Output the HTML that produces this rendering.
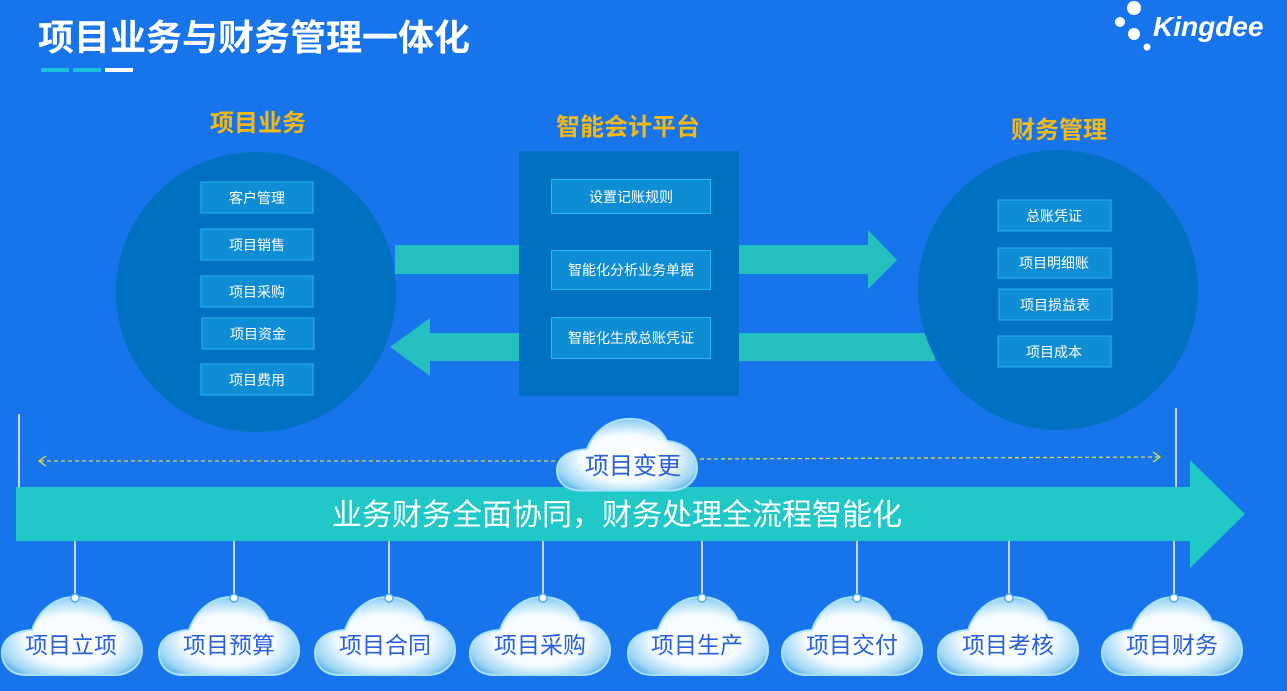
<!DOCTYPE html>
<html><head><meta charset="utf-8">
<style>
html,body{margin:0;padding:0;}
body{width:1287px;height:686px;overflow:hidden;background:#1874ea;font-family:"Liberation Sans","Noto Sans CJK SC",sans-serif;}
svg text{font-family:"Liberation Sans","Noto Sans CJK SC",sans-serif;}
</style></head><body>
<svg width="1287" height="686" viewBox="0 0 1287 686" xmlns="http://www.w3.org/2000/svg">
<defs>
<radialGradient id="cg" cx="50%" cy="55%" r="60%">
<stop offset="0" stop-color="#ffffff"/><stop offset="0.55" stop-color="#f4fbff"/><stop offset="0.85" stop-color="#9ed6f4"/><stop offset="1" stop-color="#4aa8e6"/>
</radialGradient>
<path id="cloud" d="M25,80 C7,80 0,69 0,58 C0,44 12,36 30,35 C37,15 53,2 73,2 C92,2 104,13 110,26 C128,28 140,40 140,55 C140,70 128,80 112,80 Z" fill="url(#cg)" stroke="#a9e2ff" stroke-width="2"/>
</defs>
<!-- title -->
<text x="38" y="50" font-size="36" font-weight="bold" fill="#fff">项目业务与财务管理一体化</text>
<rect x="41" y="68" width="28" height="4" fill="#1ec0e0"/>
<rect x="73" y="68" width="28" height="4" fill="#1ec0e0"/>
<rect x="105" y="68" width="28" height="4" fill="#fff"/>
<!-- logo -->
<circle cx="1134" cy="8" r="7" fill="#fff"/><circle cx="1120" cy="22" r="5" fill="#fff"/><circle cx="1134" cy="34" r="6" fill="#fff"/><circle cx="1147" cy="47" r="3.5" fill="#fff"/>
<text x="1153" y="36" font-size="28" font-weight="bold" font-style="italic" fill="#fff">Kingdee</text>
<!-- headings -->
<text x="258" y="131" font-size="24" font-weight="bold" fill="#f5b915" text-anchor="middle">项目业务</text>
<text x="628" y="135" font-size="24" font-weight="bold" fill="#f5b915" text-anchor="middle">智能会计平台</text>
<text x="1059" y="138" font-size="24" font-weight="bold" fill="#f5b915" text-anchor="middle">财务管理</text>
<!-- arrows -->
<path d="M395,245 H868 V230 L897,260 L868,289 V274 H395 Z" fill="#24bfbe"/>
<path d="M935,333 H430 V318 L390,347 L430,376 V361 H935 Z" fill="#24bfbe"/>
<!-- circles -->
<circle cx="256" cy="292" r="140" fill="#0070c0"/>
<circle cx="1058" cy="290" r="140" fill="#0070c0"/>
<rect x="519" y="151" width="220" height="245" fill="#0070c0"/>
<g font-size="14" fill="#fff" text-anchor="middle" stroke="#2ab8f0" stroke-width="1">
<g fill="#0e8cd4"><rect x="201" y="182" width="112" height="31"/><rect x="201" y="229" width="112" height="31"/><rect x="201" y="276" width="112" height="31"/><rect x="202" y="318" width="112" height="31"/><rect x="201" y="364" width="112" height="31"/>
<rect x="551.5" y="179.5" width="159" height="34"/><rect x="551.5" y="250.5" width="159" height="39"/><rect x="551.5" y="317.5" width="159" height="41"/>
<rect x="998" y="200" width="113" height="31"/><rect x="998" y="248" width="113" height="30"/><rect x="999" y="289" width="113" height="31"/><rect x="998" y="336" width="113" height="31"/></g>
</g>
<g font-size="14" fill="#fff" text-anchor="middle">
<text x="257" y="203">客户管理</text><text x="257" y="250">项目销售</text><text x="257" y="297">项目采购</text><text x="258" y="339">项目资金</text><text x="257" y="385">项目费用</text>
<text x="631" y="202">设置记账规则</text><text x="631" y="275">智能化分析业务单据</text><text x="631" y="343">智能化生成总账凭证</text>
<text x="1054" y="221">总账凭证</text><text x="1054" y="268">项目明细账</text><text x="1055" y="310">项目损益表</text><text x="1054" y="357">项目成本</text>
</g>
<!-- vertical lines -->
<line x1="19" y1="414" x2="19" y2="490" stroke="#c8d4e8" stroke-width="2"/>
<line x1="1176" y1="408" x2="1176" y2="490" stroke="#c8d4e8" stroke-width="2"/>
<!-- dashed -->
<line x1="40" y1="461" x2="555" y2="461" stroke="#d8d860" stroke-width="1.2" stroke-dasharray="4,3"/>
<path d="M46,456 L39,461 L46,466" fill="none" stroke="#e8e820" stroke-width="1.2"/>
<line x1="700" y1="459" x2="1158" y2="457" stroke="#e8e840" stroke-width="1.2" stroke-dasharray="4,3"/>
<path d="M1153,452 L1160,457 L1153,462" fill="none" stroke="#e8e820" stroke-width="1.2"/>
<!-- big arrow -->
<path d="M16,487 H1190 V460 L1245,514 L1190,568 V541 H16 Z" fill="#20c8c8"/>
<text x="617" y="525" font-size="30" fill="#fff" text-anchor="middle">业务财务全面协同，财务处理全流程智能化</text>
<!-- top cloud -->
<use href="#cloud" transform="translate(557,417) scale(1,0.92)"/>
<text x="633" y="474" font-size="24" fill="#2a60d8" text-anchor="middle">项目变更</text>
<!-- bottom clouds -->
<g stroke="#c8d4e8" stroke-width="2">
<line x1="75" y1="541" x2="75" y2="597"/><line x1="234" y1="541" x2="234" y2="597"/><line x1="389" y1="541" x2="389" y2="597"/><line x1="543" y1="541" x2="543" y2="597"/><line x1="702" y1="541" x2="702" y2="597"/><line x1="857" y1="541" x2="857" y2="597"/><line x1="1009" y1="541" x2="1009" y2="597"/><line x1="1174" y1="541" x2="1174" y2="597"/>
</g>
<g>
<use href="#cloud" transform="translate(2,595)"/>
<use href="#cloud" transform="translate(159,595)"/>
<use href="#cloud" transform="translate(315,595)"/>
<use href="#cloud" transform="translate(470,595)"/>
<use href="#cloud" transform="translate(628,595)"/>
<use href="#cloud" transform="translate(782,595)"/>
<use href="#cloud" transform="translate(938,595)"/>
<use href="#cloud" transform="translate(1102,595)"/>
</g>
<g fill="#fff" stroke="#4ab0ee" stroke-width="1.5">
<circle cx="75" cy="598" r="4"/><circle cx="234" cy="598" r="4"/><circle cx="389" cy="598" r="4"/><circle cx="543" cy="598" r="4"/><circle cx="702" cy="598" r="4"/><circle cx="857" cy="598" r="4"/><circle cx="1009" cy="598" r="4"/><circle cx="1174" cy="598" r="4"/>
</g>
<g font-size="23" fill="#2a60d8" text-anchor="middle">
<text x="71" y="653">项目立项</text><text x="229" y="653">项目预算</text><text x="385" y="653">项目合同</text><text x="540" y="653">项目采购</text><text x="697" y="653">项目生产</text><text x="852" y="653">项目交付</text><text x="1008" y="653">项目考核</text><text x="1172" y="653">项目财务</text>
</g>
</svg>
</body></html>
